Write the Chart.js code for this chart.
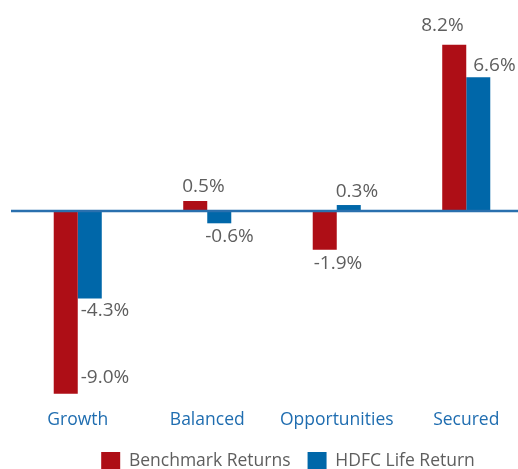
<!DOCTYPE html>
<html>
<head>
<meta charset="utf-8">
<script src="https://cdn.jsdelivr.net/npm/chart.js@4"></script>
<style>
  html, body { margin: 0; padding: 0; background: #fff; }
  #wrap { width: 518px; height: 469px; overflow: hidden; position: relative; }
  #chart { display: block; }
</style>
</head>
<body>
<div id="wrap"><canvas id="chart" width="532" height="481"></canvas></div>
<script>
// fund categories and returns (%)
const categories = ['Growth', 'Balanced', 'Opportunities', 'Secured'];
const benchmarkReturns = [-9.0, 0.5, -1.9, 8.2];
const hdfcReturns = [-4.3, -0.6, 0.3, 6.6];
const seriesNames = ['Benchmark Returns', 'HDFC Life Return'];

// label nudges relative to bar left edge / bar end, like the hand placed labels
const benchmarkLabelNudge = [[27, -16], [-1, -14], [1, 14], [-21, -19]];
const hdfcLabelNudge = [[3, 12], [-2, 13], [-1, -13], [7, -12]];

const RED = '#ae0e16';
const BLUE = '#0067a9';
const AXIS_BLUE = '#1f6db0';
const GREY = '#5e5e5e';
const FONT = '"Open Sans"';

// zero line drawn over the bars, running to the right edge
const zeroLine = {
  id: 'zeroLine',
  afterDatasetsDraw(chart) {
    const y0 = chart.scales.y.getPixelForValue(0);
    const ctx = chart.ctx;
    ctx.save();
    ctx.strokeStyle = '#2a70ae';
    ctx.lineWidth = 2.5;
    ctx.beginPath();
    ctx.moveTo(chart.chartArea.left - 2, y0);
    ctx.lineTo(chart.width, y0);
    ctx.stroke();
    ctx.restore();
  }
};

// value labels next to every bar
const valueLabels = {
  id: 'valueLabels',
  afterDraw(chart) {
    const ctx = chart.ctx;
    const nudges = [benchmarkLabelNudge, hdfcLabelNudge];
    ctx.save();
    ctx.font = '19px ' + FONT;
    ctx.fillStyle = GREY;
    ctx.textAlign = 'left';
    ctx.textBaseline = 'middle';
    chart.data.datasets.forEach((ds, i) => {
      const meta = chart.getDatasetMeta(i);
      meta.data.forEach((bar, j) => {
        const left = bar.x - bar.width / 2;
        const n = nudges[i][j];
        ctx.fillText(ds.data[j].toFixed(1) + '%', left + n[0], bar.y + n[1]);
      });
    });
    ctx.restore();
  }
};

// legend sits a bit right of the canvas centre in the original
const legendShift = {
  id: 'legendShift',
  afterLayout(chart) {
    if (chart.legend) {
      chart.legend.left += 16;
      chart.legend.right += 16;
    }
  }
};

const ctx = document.getElementById('chart').getContext('2d');
const chart = new Chart(ctx, {
  type: 'bar',
  data: {
    labels: categories,
    datasets: [
      { label: seriesNames[0], data: benchmarkReturns, backgroundColor: RED },
      { label: seriesNames[1], data: hdfcReturns, backgroundColor: BLUE }
    ]
  },
  options: {
    responsive: false,
    animation: false,
    layout: { padding: { left: 13, right: 1, top: 0, bottom: 0 } },
    datasets: {
      bar: { barPercentage: 1, categoryPercentage: 0.371 }
    },
    plugins: {
      legend: {
        position: 'bottom',
        labels: {
          boxWidth: 19,
          boxHeight: 19,
          padding: 17,
          color: GREY,
          font: { family: FONT, size: 17.5 }
        }
      },
      tooltip: { enabled: false }
    },
    scales: {
      x: {
        grid: { display: false, drawTicks: false },
        border: { display: false },
        ticks: { color: AXIS_BLUE, padding: 4, font: { family: FONT, size: 17.5 } }
      },
      y: {
        display: false,
        min: -9.6,
        max: 10.4
      }
    }
  },
  plugins: [zeroLine, valueLabels, legendShift]
});
</script>
</body>
</html>
